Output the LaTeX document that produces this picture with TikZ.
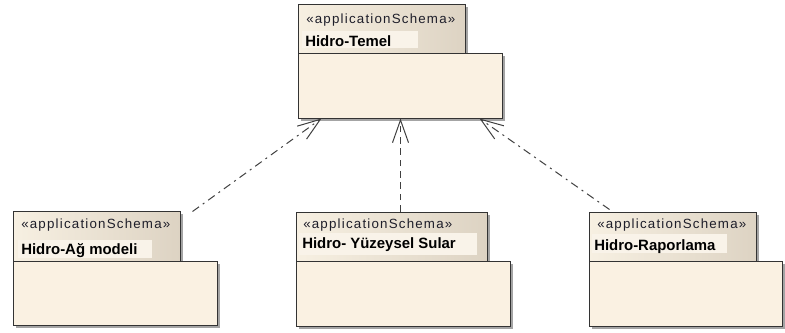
\documentclass[tikz,border=0pt]{standalone}
\usepackage{fontspec}
\setmainfont{Liberation Sans}
\newfontfamily\stereofont[LetterSpace=9]{Liberation Sans}
\usetikzlibrary{arrows.meta,shadows,fit,calc}

\definecolor{bodyfill}{HTML}{FAF1E2}
\definecolor{tableft}{HTML}{F7F0E2}
\definecolor{tabright}{HTML}{DDD3C3}
\definecolor{namehl}{HTML}{F9F3E9}
\definecolor{edge}{HTML}{333333}
\definecolor{conn}{HTML}{404040}
\definecolor{shade}{HTML}{A4A4A4}
\definecolor{stereotext}{HTML}{1E1E2A}

\tikzset{
  pkgshadow/.style={drop shadow={shadow xshift=2.25pt, shadow yshift=-2.25pt, fill=shade, opacity=1}},
  pkgtab/.style={draw=edge, line width=0.75pt, inner sep=0pt, left color=tableft, right color=tabright, pkgshadow},
  pkgbody/.style={draw=edge, line width=0.75pt, inner sep=0pt, fill=bodyfill, pkgshadow},
  stereo/.style={anchor=base west, inner sep=0pt, text=stereotext, font=\stereofont\fontsize{10pt}{12pt}\selectfont},
  pkgname/.style={anchor=base west, inner sep=0pt, text=black, font=\fontsize{11.2pt}{13pt}\selectfont\bfseries},
  dep/.style={draw=conn, line width=0.75pt, -{Straight Barb[length=17pt, width=12pt]}},
  dashdotline/.style={dash pattern=on 6pt off 3.5pt on 1.5pt off 3.5pt},
  dashline/.style={dash pattern=on 5pt off 3.5pt}
}

\begin{document}
\begin{tikzpicture}[x=0.75pt, y=-0.75pt]
  \useasboundingbox (0,0) rectangle (785,332);

  % Hidro-Temel
  \node[pkgtab, fit={(298,4) (465,53)}] (ttab) {};
  \node[pkgbody, fit={(298,53) (502,118)}] (tbody) {};
  \fill[namehl] (302,31) rectangle (418,48);
  \node[stereo] (tst) at (306,23) {«applicationSchema»};
  \node[pkgname] (tname) at (305,46) {Hidro-Temel};

  % Hidro-Ağ modeli
  \node[pkgtab, fit={(13,211) (180,261)}] (ltab) {};
  \node[pkgbody, fit={(13,261) (217,325)}] (lbody) {};
  \fill[namehl] (18,240) rectangle (152,258);
  \node[stereo] (lst) at (21,228) {«applicationSchema»};
  \node[pkgname] (lname) at (21,254) {Hidro-Ağ modeli};

  % Hidro- Yüzeysel Sular
  \node[pkgtab, fit={(296,212) (487,261)}] (mtab) {};
  \node[pkgbody, fit={(296,261) (510,326)}] (mbody) {};
  \fill[namehl] (299,233) rectangle (477,255);
  \node[stereo] (mst) at (303,228) {«applicationSchema»};
  \node[pkgname] (mname) at (302,248) {Hidro- Yüzeysel Sular};

  % Hidro-Raporlama
  \node[pkgtab, fit={(589,212) (756,261)}] (rtab) {};
  \node[pkgbody, fit={(589,261) (782,326)}] (rbody) {};
  \fill[namehl] (592,234) rectangle (727,253);
  \node[stereo] (rst) at (597,228) {«applicationSchema»};
  \node[pkgname] (rname) at (594,250) {Hidro-Raporlama};

  % dependencies on Hidro-Temel
  \coordinate (lsrc) at ($(ltab.north east)+(12,1)$);
  \draw[dep, dashdotline] (lsrc) -- ($(tbody.south west)+(24,0)$);
  \draw[dep, dashline] ($(mtab.north west)+(105,0)$) -- ($(tbody.south west)+(103,0)$);
  \draw[dep, dashdotline] ($(rtab.north west)+(21,-2)$) -- ($(tbody.south west)+(182,0)$);
\end{tikzpicture}
\end{document}
